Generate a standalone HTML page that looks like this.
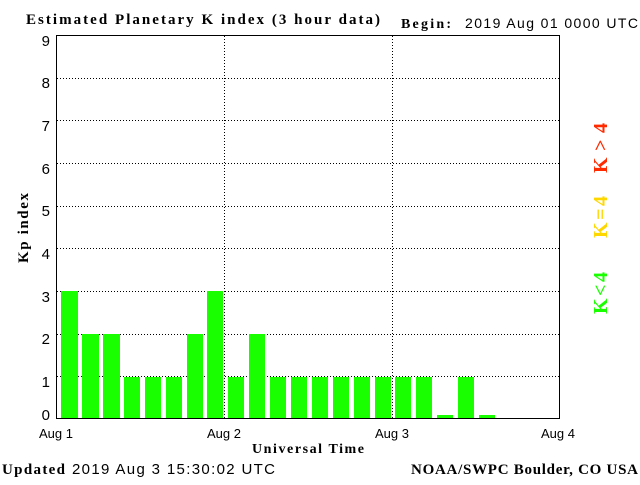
<!DOCTYPE html>
<html><head><meta charset="utf-8"><style>
body{margin:0;background:#fff}
svg text{font-family:"Liberation Serif",serif}
.s{font-family:"Liberation Sans",sans-serif}
</style></head><body>
<svg width="640" height="480" xmlns="http://www.w3.org/2000/svg">
<rect width="640" height="480" fill="#fff"/>
<text x="26" y="24" font-size="15" font-weight="bold" textLength="354" lengthAdjust="spacing">Estimated Planetary K index (3 hour data)</text>
<text x="401" y="28" font-size="14" font-weight="bold" textLength="50">Begin:</text>
<text x="465" y="28" font-size="14" class="s" textLength="173">2019 Aug 01 0000 UTC</text>
<g stroke="#000" stroke-dasharray="1,2" stroke-width="1">
<line x1="57" y1="78.5" x2="559" y2="78.5"/><line x1="57" y1="120.5" x2="559" y2="120.5"/>
<line x1="57" y1="163.5" x2="559" y2="163.5"/><line x1="57" y1="206.5" x2="559" y2="206.5"/>
<line x1="57" y1="248.5" x2="559" y2="248.5"/><line x1="57" y1="291.5" x2="559" y2="291.5"/>
<line x1="57" y1="334.5" x2="559" y2="334.5"/><line x1="57" y1="376.5" x2="559" y2="376.5"/>
<line x1="224.5" y1="36" x2="224.5" y2="419"/><line x1="392.5" y1="36" x2="392.5" y2="419"/>
</g>
<g fill="#1aff00">
<rect x="61" y="291" width="17" height="128"/>
<rect x="82" y="334" width="17" height="85"/>
<rect x="103" y="334" width="17" height="85"/>
<rect x="124" y="377" width="16" height="42"/>
<rect x="145" y="377" width="16" height="42"/>
<rect x="166" y="377" width="16" height="42"/>
<rect x="187" y="334" width="16" height="85"/>
<rect x="207" y="291" width="16" height="128"/>
<rect x="228" y="377" width="16" height="42"/>
<rect x="249" y="334" width="16" height="85"/>
<rect x="270" y="377" width="16" height="42"/>
<rect x="291" y="377" width="16" height="42"/>
<rect x="312" y="377" width="16" height="42"/>
<rect x="333" y="377" width="16" height="42"/>
<rect x="354" y="377" width="16" height="42"/>
<rect x="375" y="377" width="16" height="42"/>
<rect x="395" y="377" width="16" height="42"/>
<rect x="416" y="377" width="16" height="42"/>
<rect x="437" y="415" width="16" height="4"/>
<rect x="458" y="377" width="16" height="42"/>
<rect x="479" y="415" width="16" height="4"/>
</g>
<rect x="56.5" y="35.5" width="503" height="383" fill="none" stroke="#000"/>
<g font-size="15" class="s" text-anchor="end">
<text x="50" y="46" class="s">9</text><text x="50" y="88" class="s">8</text>
<text x="50" y="131" class="s">7</text><text x="50" y="174" class="s">6</text>
<text x="50" y="216" class="s">5</text><text x="50" y="259" class="s">4</text>
<text x="50" y="302" class="s">3</text><text x="50" y="344" class="s">2</text>
<text x="50" y="387" class="s">1</text><text x="50" y="420" class="s">0</text>
</g>
<g font-size="13" class="s" text-anchor="middle">
<text x="56" y="438" class="s">Aug 1</text><text x="224" y="438" class="s">Aug 2</text>
<text x="392" y="438" class="s">Aug 3</text><text x="558" y="438" class="s">Aug 4</text>
</g>
<text x="308" y="453" font-size="14" font-weight="bold" text-anchor="middle" textLength="112">Universal Time</text>
<text transform="translate(28,228) rotate(-90)" font-size="15" font-weight="bold" text-anchor="middle" textLength="70">Kp index</text>
<text x="2" y="474" font-size="15" font-weight="bold" textLength="63">Updated</text>
<text x="72" y="474" font-size="15" class="s" textLength="203">2019 Aug  3 15:30:02 UTC</text>
<text x="411" y="474" font-size="15" font-weight="bold" textLength="227" lengthAdjust="spacing">NOAA/SWPC Boulder, CO USA</text>
<g font-size="20" font-weight="bold" text-anchor="middle">
<text transform="translate(607,148) rotate(-90)" fill="#ff2a00" textLength="50">K&gt;4</text>
<text transform="translate(607,217) rotate(-90)" fill="#ffd700" textLength="42">K=4</text>
<text transform="translate(607,293) rotate(-90)" fill="#1aff00" textLength="42">K&lt;4</text>
</g>
</svg>
</body></html>
